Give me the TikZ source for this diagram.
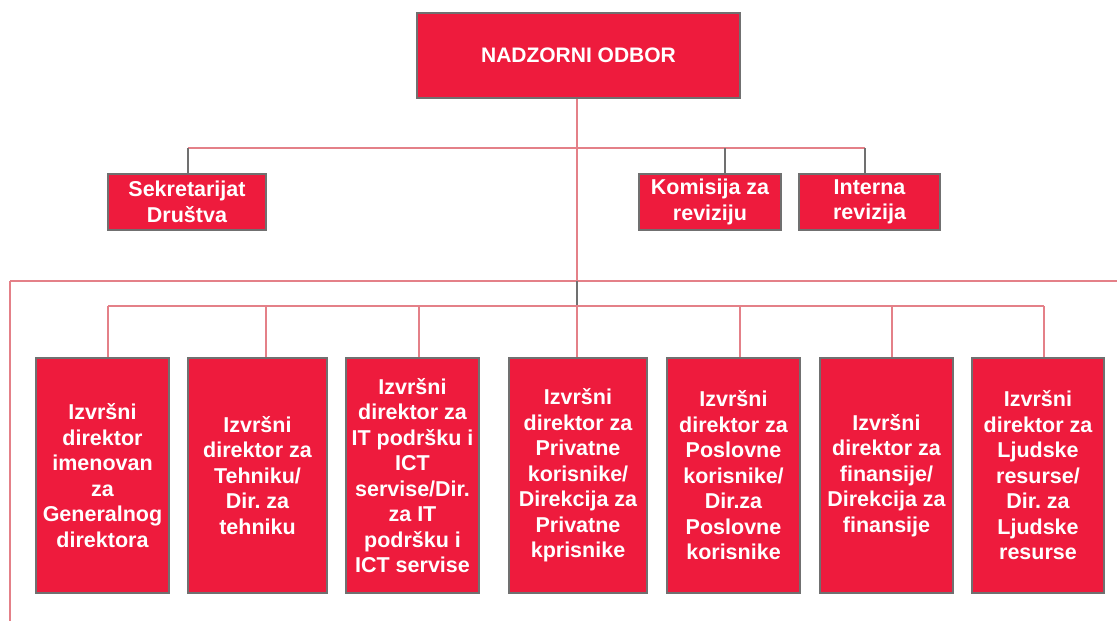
\documentclass[tikz,border=0pt]{standalone}
\usepackage{fontspec}
\setmainfont{Liberation Sans}
\frenchspacing
\definecolor{boxred}{HTML}{EE1B3D}
\definecolor{linepink}{HTML}{E48088}
\definecolor{linegray}{HTML}{707070}
\begin{document}
\begin{tikzpicture}[x=1pt,y=-1pt,
  unit/.style={draw=linegray, line width=1.2pt, fill=boxred, text=white,
    font=\fontsize{21.5}{25.5}\selectfont\bfseries, align=center, inner sep=0pt, anchor=center},
  pinkline/.style={draw=linepink, line width=1.1pt},
  grayline/.style={draw=linegray, line width=1.1pt}]
\useasboundingbox (0,0) rectangle (1117,621);
% boxes
\node[unit, font=\fontsize{21}{25.5}\selectfont\bfseries, minimum width=323pt, minimum height=85pt] (top) at (578.5,55.5) {NADZORNI ODBOR};
\node[unit, minimum width=158pt, minimum height=56pt] (sek) at (187,202) {Sekretarijat\\Društva};
\node[unit, minimum width=142pt, minimum height=56pt] (kom) at (710,202) {Komisija za\\reviziju};
\node[unit, minimum width=141pt, minimum height=56pt] (int) at (869.5,202) {Interna\\revizija};
\node[unit, minimum width=133pt, minimum height=235pt] (b1) at (102.5,475.5) {Izvršni\\direktor\\imenovan\\za\\Generalnog\\direktora};
\node[unit, minimum width=139pt, minimum height=235pt] (b2) at (257.5,475.5) {Izvršni\\direktor za\\Tehniku/\\Dir. za\\tehniku};
\node[unit, minimum width=133pt, minimum height=235pt] (b3) at (412.5,475.5) {Izvršni\\direktor za\\IT podršku i\\ICT\\servise/Dir.\\za IT\\podršku i\\ICT servise};
\node[unit, minimum width=138pt, minimum height=235pt] (b4) at (578,475.5) {Izvršni\\direktor za\\Privatne\\korisnike/\\Direkcija za\\Privatne\\kprisnike};
\node[unit, minimum width=133pt, minimum height=235pt] (b5) at (733.5,475.5) {Izvršni\\direktor za\\Poslovne\\korisnike/\\Dir.za\\Poslovne\\korisnike};
\node[unit, minimum width=133pt, minimum height=235pt] (b6) at (886.5,475.5) {Izvršni\\direktor za\\finansije/\\Direkcija za\\finansije};
\node[unit, minimum width=132pt, minimum height=235pt] (b7) at (1038,475.5) {Izvršni\\direktor za\\Ljudske\\resurse/\\Dir. za\\Ljudske\\resurse};
% junction coordinates
\coordinate (h1) at (577,148);
\coordinate (h1l) at (188,148);
\coordinate (h1k) at (725,148);
\coordinate (h1r) at (865,148);
\coordinate (h2) at (577,281);
\coordinate (h2l) at (10,281);
\coordinate (h2r) at (1117,281);
\coordinate (vend) at (10,621);
\coordinate (h3) at (577,306);
\coordinate (c1) at (108,306);
\coordinate (c2) at (266,306);
\coordinate (c3) at (419,306);
\coordinate (c4) at (577,306);
\coordinate (c5) at (740,306);
\coordinate (c6) at (892,306);
\coordinate (c7) at (1044,306);
% upper connectors
\draw[pinkline] (h1l) -- (h1r);
\draw[grayline] (h1l) -- (h1l |- sek.north);
\draw[grayline] (h1k) -- (h1k |- kom.north);
\draw[grayline] (h1r) -- (h1r |- int.north);
\draw[pinkline] (top.south -| h2) -- (h2);
\draw[pinkline] (h2l) -- (h2r);
\draw[pinkline] (h2l) -- (vend);
\draw[grayline] (h2) -- (h3);
\draw[pinkline] (c1) -- (c7);
\draw[pinkline] (c1) -- (c1 |- b1.north);
\draw[pinkline] (c2) -- (c2 |- b2.north);
\draw[pinkline] (c3) -- (c3 |- b3.north);
\draw[pinkline] (c4) -- (c4 |- b4.north);
\draw[pinkline] (c5) -- (c5 |- b5.north);
\draw[pinkline] (c6) -- (c6 |- b6.north);
\draw[pinkline] (c7) -- (c7 |- b7.north);
\end{tikzpicture}
\end{document}
